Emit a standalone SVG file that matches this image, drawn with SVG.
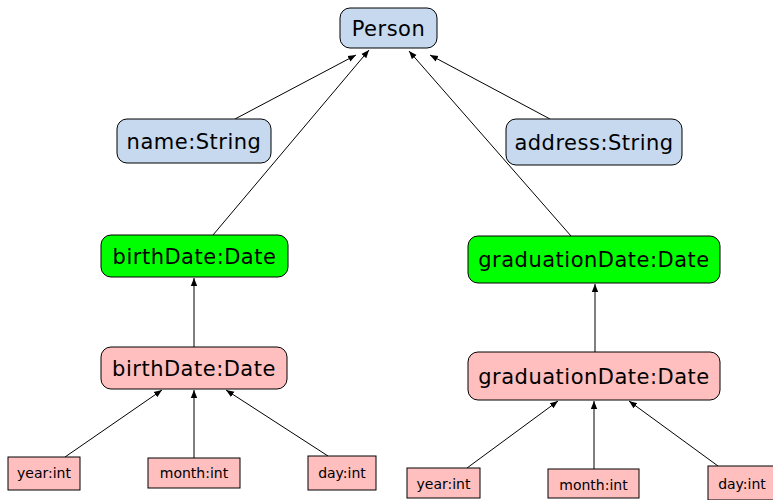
<svg xmlns="http://www.w3.org/2000/svg" width="773" height="500" viewBox="0 0 773 500">
<defs>
<marker id="ah" viewBox="0 0 10 10" refX="10" refY="5" markerWidth="8" markerHeight="8" markerUnits="userSpaceOnUse" orient="auto">
<path d="M0,1 L10,5 L0,9 Z" fill="#000"/>
</marker>
<style>
.blue{fill:#c6d9ef;stroke:#000;stroke-width:1}
.green{fill:#00ff00;stroke:#000;stroke-width:1}
.pink{fill:#ffbfbf;stroke:#000;stroke-width:1}
.big{font-family:"DejaVu Sans","Liberation Sans",sans-serif;font-size:21px;letter-spacing:0.5px;fill:#000;text-anchor:middle}
.small{font-family:"DejaVu Sans","Liberation Sans",sans-serif;font-size:14px;fill:#000;text-anchor:middle}
.edge{stroke:#000;stroke-width:1;fill:none;marker-end:url(#ah)}
</style>
</defs>
<rect width="773" height="500" fill="#fff"/>
<g id="edges">
<line class="edge" x1="235" y1="119" x2="356" y2="55"/>
<line class="edge" x1="213" y1="235" x2="369" y2="50"/>
<line class="edge" x1="571" y1="236" x2="409" y2="51"/>
<line class="edge" x1="550" y1="119" x2="430" y2="55"/>
<line class="edge" x1="194" y1="347" x2="194" y2="278"/>
<line class="edge" x1="65" y1="457" x2="162" y2="390"/>
<line class="edge" x1="194" y1="458" x2="194" y2="390"/>
<line class="edge" x1="328" y1="456" x2="226" y2="390"/>
<line class="edge" x1="595" y1="352" x2="595" y2="284"/>
<line class="edge" x1="467" y1="468" x2="558" y2="401"/>
<line class="edge" x1="594" y1="469" x2="594" y2="401"/>
<line class="edge" x1="718" y1="466" x2="629" y2="401"/>
</g>
<g id="person"><rect class="blue" x="340" y="8" width="97" height="40" rx="10"/><text class="big" x="388.5" y="36">Person</text></g>
<g id="name"><rect class="blue" x="117" y="119" width="154" height="44" rx="10"/><text class="big" x="194" y="149">name:String</text></g>
<g id="address"><rect class="blue" x="506" y="119" width="176" height="46" rx="10"/><text class="big" x="594" y="150">address:String</text></g>
<g id="birthDateGreen"><rect class="green" x="101" y="235" width="187" height="42" rx="10"/><text class="big" x="194.5" y="264">birthDate:Date</text></g>
<g id="birthDatePink"><rect class="pink" x="101" y="347" width="186" height="42" rx="10"/><text class="big" x="194" y="376">birthDate:Date</text></g>
<g id="gradGreen"><rect class="green" x="468" y="236" width="252" height="47" rx="10"/><text class="big" x="594" y="267">graduationDate:Date</text></g>
<g id="gradPink"><rect class="pink" x="468" y="352" width="252" height="48" rx="10"/><text class="big" x="594" y="384">graduationDate:Date</text></g>
<g id="year1"><rect class="pink" x="8" y="457" width="72" height="33"/><text class="small" x="44" y="478">year:int</text></g>
<g id="month1"><rect class="pink" x="148" y="458" width="92" height="30"/><text class="small" x="194" y="478">month:int</text></g>
<g id="day1"><rect class="pink" x="308" y="456" width="68" height="34"/><text class="small" x="342" y="478">day:int</text></g>
<g id="year2"><rect class="pink" x="407" y="468" width="73" height="30"/><text class="small" x="443.5" y="489">year:int</text></g>
<g id="month2"><rect class="pink" x="548" y="469" width="91" height="29"/><text class="small" x="593.5" y="490">month:int</text></g>
<g id="day2"><rect class="pink" x="708" y="466" width="68" height="34"/><text class="small" x="742" y="489">day:int</text></g>
</svg>
